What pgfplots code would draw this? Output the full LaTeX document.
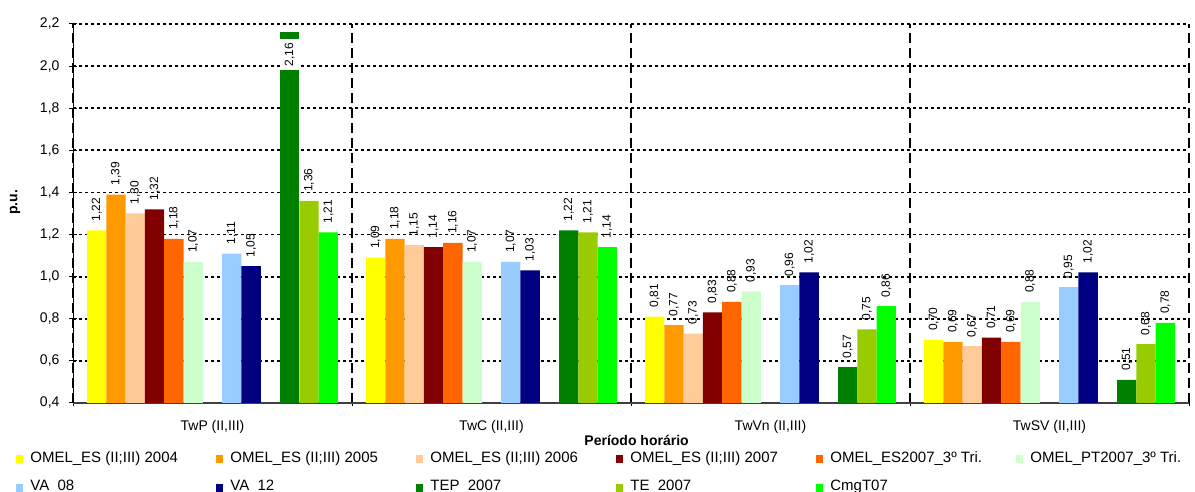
\documentclass[border=0pt]{standalone}
\usepackage{fontspec}
\setmainfont{Liberation Sans}
\usepackage{pgfplots}
\pgfplotsset{compat=1.18}
\definecolor{c1}{HTML}{FFFF00}
\definecolor{c2}{HTML}{FF9900}
\definecolor{c3}{HTML}{FFCC99}
\definecolor{c4}{HTML}{800000}
\definecolor{c5}{HTML}{FF6600}
\definecolor{c6}{HTML}{CCFFCC}
\definecolor{c7}{HTML}{99CCFF}
\definecolor{c8}{HTML}{000080}
\definecolor{c9}{HTML}{008000}
\definecolor{c10}{HTML}{99CC00}
\definecolor{c11}{HTML}{00FF00}
\definecolor{axgray}{HTML}{404040}
\newcommand{\lent}[1]{\makebox[96.6pt][l]{\hspace{3.6pt}\rule[-2pt]{0pt}{7pt}#1}}
\pgfplotsset{
  mybar/.style={ybar, bar width=0.0692, bar shift=0, fill=#1, draw=none,
    legend image code/.code={\fill[fill=#1] (0pt,-2.4pt) rectangle (3.4pt,1.6pt);}},
}
\begin{document}
\begin{tikzpicture}
\path[use as bounding box] (-36.5pt,-44.5pt) rectangle (561pt,201.5pt);
\begin{axis}[
  at={(0,0)}, anchor=south west,
  scale only axis, width=558pt, height=189.5pt,
  xmin=-0.5, xmax=3.5, ymin=0.4, ymax=2.2,
  axis x line*=bottom, axis y line*=left,
  x axis line style={color=axgray, line width=1pt},
  y axis line style={color=black, line width=0.5pt},
  tick align=center, major tick length=3.5pt,
  tick style={black, line width=0.5pt},
  ytick={0.4,0.6,0.8,1.0,1.2,1.4,1.6,1.8,2.0,2.2},
  /pgf/number format/assume math mode=true,
  yticklabel style={/pgf/number format/.cd, fixed, fixed zerofill, precision=1, use comma, /tikz/.cd, font=\fontsize{7}{8}\selectfont, xshift=-1.5pt},
  ymajorgrids,
  y grid style={black, line width=0.9pt, dash pattern=on 1.5pt off 1.5pt},
  xtick={-0.5,0.5,1.5,2.5,3.5}, xticklabels={,,,,},
  xmajorgrids,
  x grid style={black, line width=0.9pt, dash pattern=on 5pt off 2.5pt},
  extra x ticks={0,1,2,3},
  extra x tick labels={{TwP (II,III)},{TwC (II,III)},{TwVn (II,III)},{TwSV (II,III)}},
  extra x tick style={major tick length=0pt, grid=none},
  xticklabel style={anchor=center, yshift=-12pt, font=\fontsize{7}{8}\selectfont},
  xlabel={Período horário},
  xlabel style={at={(axis description cs:0.505,-0.0976)}, anchor=center, font=\bfseries\fontsize{7}{8}\selectfont},
  ylabel={p.u.},
  ylabel style={at={(axis description cs:-0.052,0.53)}, anchor=center, font=\bfseries\fontsize{7}{8}\selectfont},
  nodes near coords={\pgfmathprintnumber[fixed,fixed zerofill,precision=2,use comma]{\pgfplotspointmeta}},
  every node near coord/.append style={font=\fontsize{6}{7}\selectfont, rotate=90, anchor=west, inner sep=1pt, outer xsep=3.5pt, text=black},
  legend columns=6,
  legend cell align=left,
  legend style={draw=none, fill=none, inner sep=0pt, at={(-0.05108,-0.1835)}, anchor=west,
    font=\fontsize{7.5}{9}\selectfont, row sep=7.5pt, nodes={inner sep=0pt},
    /tikz/every even column/.append style={column sep=0pt}},
]
% category centres at 0,1,2,3; each series sits at its slot offset within the category
\addplot[mybar=c1] coordinates {(-0.4152,1.22) (0.5848,1.09) (1.5848,0.81) (2.5848,0.70)};
\addlegendentry{\lent{OMEL\_ES (II;III) 2004}}
\addplot[mybar=c2] coordinates {(-0.3460,1.39) (0.6540,1.18) (1.6540,0.77) (2.6540,0.69)};
\addlegendentry{\lent{OMEL\_ES (II;III) 2005}}
\addplot[mybar=c3] coordinates {(-0.2768,1.30) (0.7232,1.15) (1.7232,0.73) (2.7232,0.67)};
\addlegendentry{\lent{OMEL\_ES (II;III) 2006}}
\addplot[mybar=c4] coordinates {(-0.2076,1.32) (0.7924,1.14) (1.7924,0.83) (2.7924,0.71)};
\addlegendentry{\lent{OMEL\_ES (II;III) 2007}}
\addplot[mybar=c5] coordinates {(-0.1384,1.18) (0.8616,1.16) (1.8616,0.88) (2.8616,0.69)};
\addlegendentry{\lent{OMEL\_ES2007\_3º Tri.}}
\addplot[mybar=c6] coordinates {(-0.0692,1.07) (0.9308,1.07) (1.9308,0.93) (2.9308,0.88)};
\addlegendentry{\lent{OMEL\_PT2007\_3º Tri.}}
\addplot[mybar=c7] coordinates {(0.0692,1.11) (1.0692,1.07) (2.0692,0.96) (3.0692,0.95)};
\addlegendentry{\lent{VA\_08}}
\addplot[mybar=c8] coordinates {(0.1384,1.05) (1.1384,1.03) (2.1384,1.02) (3.1384,1.02)};
\addlegendentry{\lent{VA\_12}}
\addplot[mybar=c9] coordinates {(1.2768,1.22) (2.2768,0.57) (3.2768,0.51)};
\addlegendentry{\lent{TEP\_2007}}
\addplot[mybar=c10] coordinates {(0.3460,1.36) (1.3460,1.21) (2.3460,0.75) (3.3460,0.68)};
\addlegendentry{\lent{TE\_2007}}
\addplot[mybar=c11] coordinates {(0.4152,1.21) (1.4152,1.14) (2.4152,0.86) (3.4152,0.78)};
\addlegendentry{\lent{CmgT07}}
\addplot[mybar=c9, forget plot,
  every node near coord/.append style={anchor=east, fill=white, inner xsep=2pt, inner ysep=2.5pt, outer xsep=3.3pt}]
  coordinates {(0.2768,2.16)};
\end{axis}
\end{tikzpicture}
\end{document}
